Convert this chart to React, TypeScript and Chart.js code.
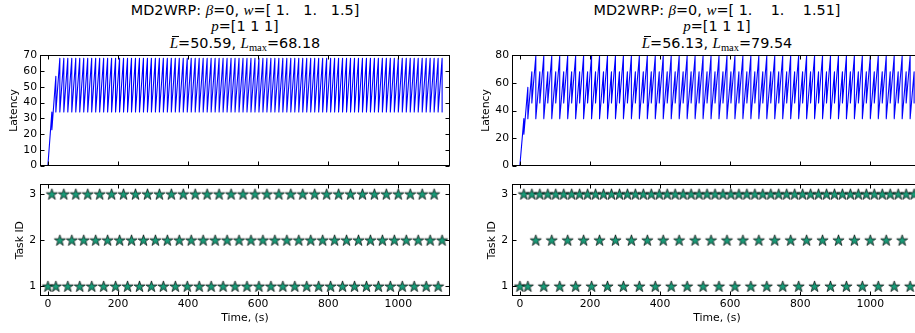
import React, { useEffect, useRef } from "react";
import { Chart, registerables } from "chart.js";

Chart.register(...registerables);

// Start times of each scheduling step, seconds
const stepTimes = [
  0, 11.36, 22.73, 34.09, 45.45, 56.82, 68.18, 79.55, 90.91, 102.27,
  113.64, 125, 136.36, 147.73, 159.09, 170.45, 181.82, 193.18, 204.55, 215.91,
  227.27, 238.64, 250, 261.36, 272.73, 284.09, 295.45, 306.82, 318.18, 329.55,
  340.91, 352.27, 363.64, 375, 386.36, 397.73, 409.09, 420.45, 431.82, 443.18,
  454.55, 465.91, 477.27, 488.64, 500, 511.36, 522.73, 534.09, 545.45, 556.82,
  568.18, 579.55, 590.91, 602.27, 613.64, 625, 636.36, 647.73, 659.09, 670.45,
  681.82, 693.18, 704.55, 715.91, 727.27, 738.64, 750, 761.36, 772.73, 784.09,
  795.45, 806.82, 818.18, 829.55, 840.91, 852.27, 863.64, 875, 886.36, 897.73,
  909.09, 920.45, 931.82, 943.18, 954.55, 965.91, 977.27, 988.64, 1000, 1011.36,
  1022.73, 1034.09, 1045.45, 1056.82, 1068.18, 1079.55, 1090.91, 1102.27, 1113.64, 1125,
];

// Left run (w = [1, 1, 1.5]): task served at each step
const leftTask = [
  1, 3, 1, 2, 3, 1, 2, 3, 1, 2,
  3, 1, 2, 3, 1, 2, 3, 1, 2, 3,
  1, 2, 3, 1, 2, 3, 1, 2, 3, 1,
  2, 3, 1, 2, 3, 1, 2, 3, 1, 2,
  3, 1, 2, 3, 1, 2, 3, 1, 2, 3,
  1, 2, 3, 1, 2, 3, 1, 2, 3, 1,
  2, 3, 1, 2, 3, 1, 2, 3, 1, 2,
  3, 1, 2, 3, 1, 2, 3, 1, 2, 3,
  1, 2, 3, 1, 2, 3, 1, 2, 3, 1,
  2, 3, 1, 2, 3, 1, 2, 3, 1, 2,
];

// Left run: latency reached just before each step, and right after it
const leftPeak = [
  0, 34.09, 56.82, 68.18, 68.18, 68.18, 68.18, 68.18, 68.18, 68.18,
  68.18, 68.18, 68.18, 68.18, 68.18, 68.18, 68.18, 68.18, 68.18, 68.18,
  68.18, 68.18, 68.18, 68.18, 68.18, 68.18, 68.18, 68.18, 68.18, 68.18,
  68.18, 68.18, 68.18, 68.18, 68.18, 68.18, 68.18, 68.18, 68.18, 68.18,
  68.18, 68.18, 68.18, 68.18, 68.18, 68.18, 68.18, 68.18, 68.18, 68.18,
  68.18, 68.18, 68.18, 68.18, 68.18, 68.18, 68.18, 68.18, 68.18, 68.18,
  68.18, 68.18, 68.18, 68.18, 68.18, 68.18, 68.18, 68.18, 68.18, 68.18,
  68.18, 68.18, 68.18, 68.18, 68.18, 68.18, 68.18, 68.18, 68.18, 68.18,
  68.18, 68.18, 68.18, 68.18, 68.18, 68.18, 68.18, 68.18, 68.18, 68.18,
  68.18, 68.18, 68.18, 68.18, 68.18, 68.18, 68.18, 68.18, 68.18, 68.18,
];
const leftDrop = [
  0, 22.73, 34.09, 34.09, 34.09, 34.09, 34.09, 34.09, 34.09, 34.09,
  34.09, 34.09, 34.09, 34.09, 34.09, 34.09, 34.09, 34.09, 34.09, 34.09,
  34.09, 34.09, 34.09, 34.09, 34.09, 34.09, 34.09, 34.09, 34.09, 34.09,
  34.09, 34.09, 34.09, 34.09, 34.09, 34.09, 34.09, 34.09, 34.09, 34.09,
  34.09, 34.09, 34.09, 34.09, 34.09, 34.09, 34.09, 34.09, 34.09, 34.09,
  34.09, 34.09, 34.09, 34.09, 34.09, 34.09, 34.09, 34.09, 34.09, 34.09,
  34.09, 34.09, 34.09, 34.09, 34.09, 34.09, 34.09, 34.09, 34.09, 34.09,
  34.09, 34.09, 34.09, 34.09, 34.09, 34.09, 34.09, 34.09, 34.09, 34.09,
  34.09, 34.09, 34.09, 34.09, 34.09, 34.09, 34.09, 34.09, 34.09, 34.09,
  34.09, 34.09, 34.09, 34.09, 34.09, 34.09, 34.09, 34.09, 34.09, 34.09,
];

// Right run (w = [1, 1, 1.51]): task served at each step
const rightTask = [
  1, 3, 1, 3, 2, 3, 1, 3, 2, 3,
  1, 3, 2, 3, 1, 3, 2, 3, 1, 3,
  2, 3, 1, 3, 2, 3, 1, 3, 2, 3,
  1, 3, 2, 3, 1, 3, 2, 3, 1, 3,
  2, 3, 1, 3, 2, 3, 1, 3, 2, 3,
  1, 3, 2, 3, 1, 3, 2, 3, 1, 3,
  2, 3, 1, 3, 2, 3, 1, 3, 2, 3,
  1, 3, 2, 3, 1, 3, 2, 3, 1, 3,
  2, 3, 1, 3, 2, 3, 1, 3, 2, 3,
  1, 3, 2, 3, 1, 3, 2, 3, 1, 3,
];

const rightPeak = [
  0, 34.09, 56.82, 68.18, 79.54, 68.18, 79.54, 68.18, 79.54, 68.18,
  79.54, 68.18, 79.54, 68.18, 79.54, 68.18, 79.54, 68.18, 79.54, 68.18,
  79.54, 68.18, 79.54, 68.18, 79.54, 68.18, 79.54, 68.18, 79.54, 68.18,
  79.54, 68.18, 79.54, 68.18, 79.54, 68.18, 79.54, 68.18, 79.54, 68.18,
  79.54, 68.18, 79.54, 68.18, 79.54, 68.18, 79.54, 68.18, 79.54, 68.18,
  79.54, 68.18, 79.54, 68.18, 79.54, 68.18, 79.54, 68.18, 79.54, 68.18,
  79.54, 68.18, 79.54, 68.18, 79.54, 68.18, 79.54, 68.18, 79.54, 68.18,
  79.54, 68.18, 79.54, 68.18, 79.54, 68.18, 79.54, 68.18, 79.54, 68.18,
  79.54, 68.18, 79.54, 68.18, 79.54, 68.18, 79.54, 68.18, 79.54, 68.18,
  79.54, 68.18, 79.54, 68.18, 79.54, 68.18, 79.54, 68.18, 79.54, 68.18,
];
const rightDrop = [
  0, 22.73, 34.09, 45.45, 34.09, 45.45, 34.09, 45.45, 34.09, 45.45,
  34.09, 45.45, 34.09, 45.45, 34.09, 45.45, 34.09, 45.45, 34.09, 45.45,
  34.09, 45.45, 34.09, 45.45, 34.09, 45.45, 34.09, 45.45, 34.09, 45.45,
  34.09, 45.45, 34.09, 45.45, 34.09, 45.45, 34.09, 45.45, 34.09, 45.45,
  34.09, 45.45, 34.09, 45.45, 34.09, 45.45, 34.09, 45.45, 34.09, 45.45,
  34.09, 45.45, 34.09, 45.45, 34.09, 45.45, 34.09, 45.45, 34.09, 45.45,
  34.09, 45.45, 34.09, 45.45, 34.09, 45.45, 34.09, 45.45, 34.09, 45.45,
  34.09, 45.45, 34.09, 45.45, 34.09, 45.45, 34.09, 45.45, 34.09, 45.45,
  34.09, 45.45, 34.09, 45.45, 34.09, 45.45, 34.09, 45.45, 34.09, 45.45,
  34.09, 45.45, 34.09, 45.45, 34.09, 45.45, 34.09, 45.45, 34.09, 45.45,
];

// Axis ticks
const timeTicks = [0, 200, 400, 600, 800, 1000];
const leftLatencyTicks = [0, 10, 20, 30, 40, 50, 60, 70];
const rightLatencyTicks = [0, 10, 20, 30, 40, 50, 60, 70, 80];
const taskTicks = [1, 2, 3];

// Title parameters
const leftWeights = "[ 1.   1.   1.5]";
const rightWeights = "[ 1.    1.    1.51]";
const priorities = "[1 1 1]";
const leftMean = "50.59";
const rightMean = "56.13";

const SANS = '"DejaVu Sans", sans-serif';
const SERIF = '"Liberation Serif", "DejaVu Serif", serif';
const TICK_FONT = { family: SANS, size: 10.8 };
const LINE_BLUE = "#0000ff";
const STAR_FILL = "#189c78";
const T_MIN = -22.5;
const T_MAX = 1147.5;

function makeStar(): HTMLCanvasElement {
  const c = document.createElement("canvas");
  c.width = 15;
  c.height = 15;
  const g = c.getContext("2d")!;
  const R = 5.9;
  const r = R * 0.382;
  g.beginPath();
  for (let i = 0; i < 10; i++) {
    const ang = -Math.PI / 2 + (i * Math.PI) / 5;
    const rad = i % 2 === 0 ? R : r;
    const x = 7.5 + rad * Math.cos(ang);
    const y = 7.9 + rad * Math.sin(ang);
    if (i === 0) g.moveTo(x, y);
    else g.lineTo(x, y);
  }
  g.closePath();
  g.fillStyle = STAR_FILL;
  g.fill();
  g.strokeStyle = "#000";
  g.lineWidth = 0.7;
  g.lineJoin = "miter";
  g.stroke();
  return c;
}

// Box around the plotting area with inward-pointing tick marks on all four sides
const framePlugin = {
  id: "axesFrame",
  afterDraw(chart: any) {
    const { ctx, chartArea: a, scales } = chart;
    const L = Math.round(a.left) + 0.5;
    const R = Math.round(a.right) - 0.5;
    const T = Math.round(a.top) + 0.5;
    const B = Math.round(a.bottom) - 0.5;
    const len = 4;
    ctx.save();
    ctx.strokeStyle = "#000";
    ctx.lineWidth = 1;
    ctx.beginPath();
    for (const t of scales.x.ticks) {
      const px = Math.round(scales.x.getPixelForValue(t.value)) + 0.5;
      ctx.moveTo(px, B);
      ctx.lineTo(px, B - len);
      ctx.moveTo(px, T);
      ctx.lineTo(px, T + len);
    }
    for (const t of scales.y.ticks) {
      const py = Math.round(scales.y.getPixelForValue(t.value)) + 0.5;
      ctx.moveTo(L, py);
      ctx.lineTo(L + len, py);
      ctx.moveTo(R, py);
      ctx.lineTo(R - len, py);
    }
    ctx.stroke();
    ctx.strokeRect(L, T, R - L, B - T);
    ctx.restore();
  },
};

function latencyPoints(peaks: number[], drops: number[]) {
  const pts = [{ x: stepTimes[0], y: drops[0] }];
  for (let k = 1; k < stepTimes.length; k++) {
    pts.push({ x: stepTimes[k], y: peaks[k] });
    pts.push({ x: stepTimes[k], y: drops[k] });
  }
  return pts;
}

function fixedTicks(values: number[]) {
  return (s: any) => {
    s.ticks = values.map((v) => ({ value: v }));
  };
}

function latencyConfig(peaks: number[], drops: number[], yMax: number, yTicks: number[]): any {
  return {
    type: "scatter",
    data: {
      datasets: [
        {
          data: latencyPoints(peaks, drops),
          showLine: true,
          borderColor: LINE_BLUE,
          borderWidth: 1.1,
          borderJoinStyle: "round",
          pointRadius: 0,
          fill: false,
          tension: 0,
        },
      ],
    },
    options: {
      animation: false,
      responsive: false,
      devicePixelRatio: 1,
      events: [],
      layout: { padding: { top: 8, right: 10, bottom: 8, left: 0 } },
      plugins: { legend: { display: false }, tooltip: { enabled: false } },
      scales: {
        x: {
          type: "linear",
          min: T_MIN,
          max: T_MAX,
          afterBuildTicks: fixedTicks(timeTicks),
          ticks: { display: false, includeBounds: false },
          grid: { display: false, drawTicks: false },
          border: { display: false },
          afterFit: (s: any) => {
            s.height = 0;
          },
        },
        y: {
          type: "linear",
          min: 0,
          max: yMax,
          afterBuildTicks: fixedTicks(yTicks),
          ticks: { font: TICK_FONT, color: "#000", padding: 3, callback: (v: any) => String(v) },
          grid: { display: false, drawTicks: false },
          border: { display: false },
          title: { display: true, text: "Latency", font: TICK_FONT, color: "#000", padding: { top: 7.3, bottom: 0 } },
          afterFit: (s: any) => {
            s.width = 40;
          },
        },
      },
    },
    plugins: [framePlugin],
  };
}

function taskConfig(tasks: number[], star: HTMLCanvasElement): any {
  return {
    type: "scatter",
    data: {
      datasets: [
        {
          data: stepTimes.map((t, k) => ({ x: t, y: tasks[k] })),
          pointStyle: star,
          pointRadius: 6,
          showLine: false,
        },
      ],
    },
    options: {
      animation: false,
      responsive: false,
      devicePixelRatio: 1,
      events: [],
      layout: { padding: { top: 8, right: 10, bottom: 0, left: 0 } },
      plugins: { legend: { display: false }, tooltip: { enabled: false } },
      scales: {
        x: {
          type: "linear",
          min: T_MIN,
          max: T_MAX,
          afterBuildTicks: fixedTicks(timeTicks),
          ticks: { font: TICK_FONT, color: "#000", padding: 1.5, includeBounds: false, maxRotation: 0, callback: (v: any) => String(v) },
          grid: { display: false, drawTicks: false },
          border: { display: false },
          title: { display: true, text: "Time, (s)", font: TICK_FONT, color: "#000", padding: { top: 0, bottom: 8.7 } },
          afterFit: (s: any) => {
            s.height = 37;
          },
        },
        y: {
          type: "linear",
          min: 0.79,
          max: 3.21,
          afterBuildTicks: fixedTicks(taskTicks),
          ticks: { font: TICK_FONT, color: "#000", padding: 4, includeBounds: false, callback: (v: any) => String(v) },
          grid: { display: false, drawTicks: false },
          border: { display: false },
          title: { display: true, text: "Task ID", font: TICK_FONT, color: "#000", padding: { top: 13.5, bottom: 0 } },
          afterFit: (s: any) => {
            s.width = 40;
          },
        },
      },
    },
    plugins: [framePlugin],
  };
}

function ChartBox(props: { left: number; top: number; width: number; height: number; build: () => any }) {
  const ref = useRef<HTMLCanvasElement>(null);
  useEffect(() => {
    const chart = new Chart(ref.current!, props.build());
    return () => chart.destroy();
  }, []);
  return (
    <canvas
      ref={ref}
      width={props.width}
      height={props.height}
      style={{ position: "absolute", left: props.left, top: props.top, width: props.width, height: props.height, display: "block" }}
    />
  );
}

const mathItalic: React.CSSProperties = { fontFamily: SERIF, fontStyle: "italic", fontSize: 15 };

function TitleBlock(props: { cx: number; weights: string; mean: string; max: string }) {
  const base: React.CSSProperties = {
    position: "absolute",
    left: props.cx - 250,
    width: 500,
    textAlign: "center",
    fontFamily: SANS,
    fontSize: 14.4,
    color: "#000",
    whiteSpace: "pre",
    height: 17,
    lineHeight: "17px",
  };
  return (
    <>
      <div style={{ ...base, top: 1.5 }}>
        MD2WRP: <span style={mathItalic}>β</span>=0, <span style={mathItalic}>w</span>={props.weights}
      </div>
      <div style={{ ...base, top: 18.2 }}>
        <span style={mathItalic}>p</span>={priorities}
      </div>
      <div style={{ ...base, top: 34.5 }}>
        <span style={{ ...mathItalic, position: "relative", display: "inline-block" }}>
          L
          <span style={{ position: "absolute", left: 2.5, width: 7, top: 1, borderTop: "1px solid #000" }} />
        </span>
        ={props.mean},{" "}
        <span style={mathItalic}>L</span>
        <span style={{ fontFamily: SERIF, fontSize: 10.5, position: "relative", top: 3 }}>max</span>={props.max}
      </div>
    </>
  );
}

export default function App() {
  const star = useRef<HTMLCanvasElement | null>(null);
  if (!star.current && typeof document !== "undefined") star.current = makeStar();
  const leftMax = Math.max(...leftPeak).toFixed(2);
  const rightMax = Math.max(...rightPeak).toFixed(2);
  return (
    <div style={{ position: "absolute", left: 0, top: 0, width: 915, height: 333, overflow: "hidden", background: "#fff" }}>
      <TitleBlock cx={245} weights={leftWeights} mean={leftMean} max={leftMax} />
      <TitleBlock cx={717} weights={rightWeights} mean={rightMean} max={rightMax} />
      <ChartBox left={0} top={46} width={460} height={129} build={() => latencyConfig(leftPeak, leftDrop, 70, leftLatencyTicks)} />
      <ChartBox left={0} top={174} width={460} height={159} build={() => taskConfig(leftTask, star.current!)} />
      <ChartBox left={472} top={46} width={460} height={129} build={() => latencyConfig(rightPeak, rightDrop, 80, rightLatencyTicks)} />
      <ChartBox left={472} top={174} width={460} height={159} build={() => taskConfig(rightTask, star.current!)} />
    </div>
  );
}
